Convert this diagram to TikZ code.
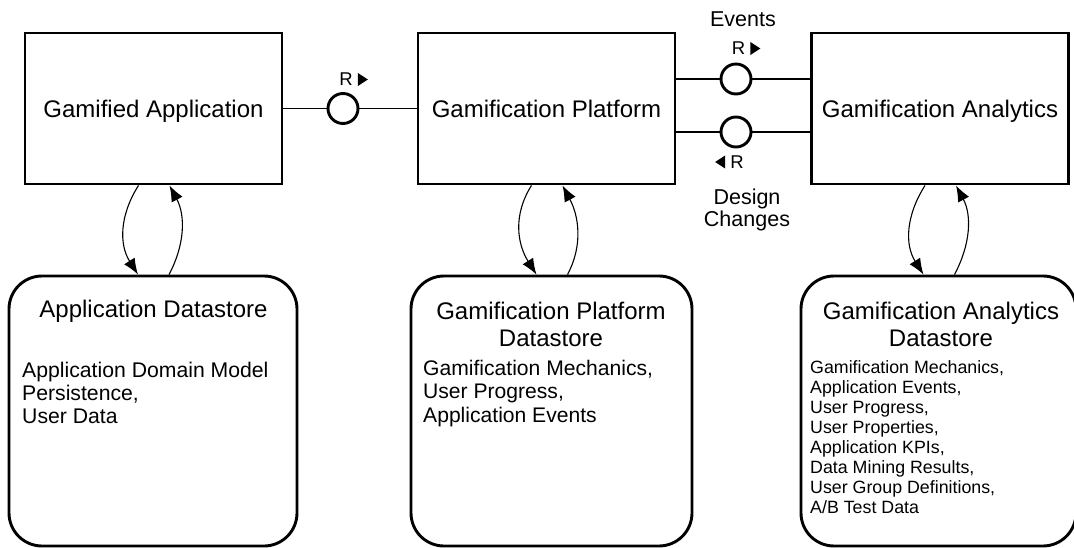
\documentclass[tikz,border=0pt]{standalone}
\usepackage{fontspec}
\setmainfont{Liberation Sans}
\usetikzlibrary{arrows.meta,calc}
\begin{document}
\begin{tikzpicture}[x=1pt,y=-1pt,
  comp/.style={draw, line width=2.9pt, minimum width=257pt, minimum height=151pt,
    inner sep=0pt, text depth=0pt, font=\fontsize{24}{28}\selectfont},
  store/.style={draw, line width=2.9pt, rounded corners=33pt, inner sep=0pt, minimum height=270pt},
  iface/.style={circle, draw, line width=2.9pt, minimum size=30pt, inner sep=0pt, fill=white},
  conn/.style={line width=1.3pt},
  flow/.style={line width=1.1pt, -{Latex[length=16pt,width=12.5pt]}},
  title/.style={font=\fontsize{24}{27}\selectfont, inner sep=0pt, align=center},
  body/.style={inner sep=0pt, align=left},
  lbl/.style={font=\fontsize{21.5}{22}\selectfont, inner sep=0pt, align=center},
  rl/.style={font=\fontsize{18.5}{18.5}\selectfont, inner sep=0pt},
  tri/.style={fill=black}]
\useasboundingbox (0,0) rectangle (1074,548);

% components
\node[comp] (ga) at (153.5,108.5) {Gamified Application};
\node[comp] (gp) at (546.5,108.5) {Gamification Platform};
\node[comp] (gan) at (940,108.5) {Gamification Analytics};

% datastores
\node[store, minimum width=288pt] (ads) at (153,411) {};
\node[store, minimum width=281pt] (pds) at (551.5,411) {};
\node[store, minimum width=275pt] (nds) at (938.5,411) {};

\node[title, anchor=north] (adst) at (153.5,299.5) {Application Datastore};
\node[title, anchor=north] (pdst) at (551,302) {Gamification Platform\\Datastore};
\node[title, anchor=north] (ndst) at (941,302) {Gamification Analytics\\Datastore};

\node[body, anchor=north west, font=\fontsize{21.2}{23}\selectfont] (adsb) at (22,362)
  {Application Domain Model\\Persistence,\\User Data};
\node[body, anchor=north west, font=\fontsize{21.1}{23.5}\selectfont] (pdsb) at (423,359.7)
  {Gamification Mechanics,\\User Progress,\\Application Events};
\node[body, anchor=north west, font=\fontsize{17.8}{20}\selectfont] (ndsb) at (810,360.3)
  {Gamification Mechanics,\\Application Events,\\User Progress,\\User Properties,\\Application KPIs,\\Data Mining Results,\\User Group Definitions,\\A/B Test Data};

% interface between application and platform
\node[iface] (c1) at (343,108.5) {};
\draw[conn] (ga.east) -- (c1.west);
\draw[conn] (c1.east) -- (gp.west);
\node[rl, anchor=base] (r1) at (346,86) {R};
\fill[tri] ([xshift=5pt]r1.base east) -- ++(0,-13) -- ++(10,6.5) -- cycle;

% interfaces between platform and analytics
\coordinate (p1) at ([yshift=29.5pt]gp.east);
\coordinate (q1) at ([yshift=29.5pt]gan.west);
\coordinate (p2) at ([yshift=-23.5pt]gp.east);
\coordinate (q2) at ([yshift=-23.5pt]gan.west);
\node[iface] (e1) at (736,79) {};
\node[iface] (e2) at (736,132) {};
\draw[conn] (p1) -- (e1.west);
\draw[conn] (e1.east) -- (q1);
\draw[conn] (p2) -- (e2.west);
\draw[conn] (e2.east) -- (q2);

\node[rl, anchor=base] (r2) at (738.5,55) {R};
\fill[tri] ([xshift=5pt]r2.base east) -- ++(0,-13) -- ++(10,6.5) -- cycle;
\node[rl, anchor=base] (r3) at (737,168.5) {R};
\fill[tri] ([xshift=-5pt]r3.base west) -- ++(0,-13) -- ++(-10,6.5) -- cycle;

\node[lbl, anchor=base] (ev) at (743,27) {Events};
\node[lbl, anchor=north] (dc) at (747,188.5) {Design\\Changes};

% component <-> datastore flows
\foreach \c/\s in {ga/ads, gp/pds, gan/nds}{
  \coordinate (a1) at ([xshift=-15pt]\c.south);
  \coordinate (a2) at ([xshift=-15pt]\s.north);
  \draw[flow] (a1) .. controls ($(a1)+(-19,30)$) and ($(a2)+(-19,-30)$) .. (a2);
  \coordinate (b1) at ([xshift=16pt]\s.north);
  \coordinate (b2) at ([xshift=16pt]\c.south);
  \draw[flow] (b1) .. controls ($(b1)+(16,-30)$) and ($(b2)+(16,30)$) .. (b2);
}
\end{tikzpicture}
\end{document}
